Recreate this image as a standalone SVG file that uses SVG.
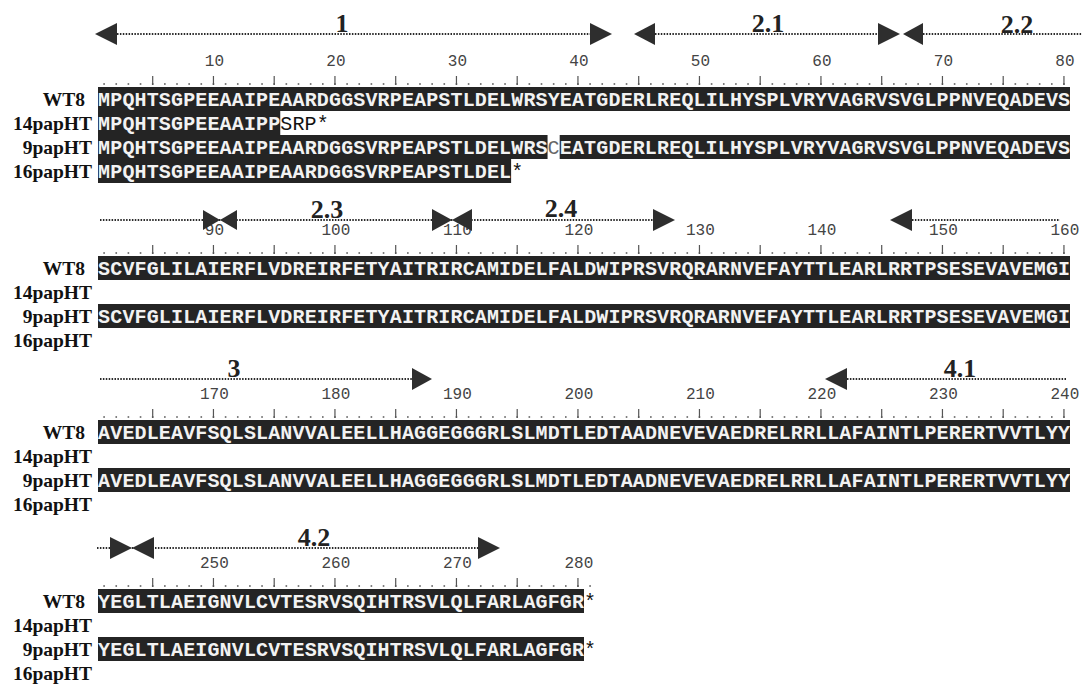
<svg xmlns="http://www.w3.org/2000/svg" width="1082" height="688" viewBox="0 0 1082 688">
<style>
.lbl{font-family:"Liberation Serif","Times New Roman",serif;font-weight:bold;font-size:19.5px;fill:#111;text-anchor:end}
.seq{font-family:"Liberation Mono","Courier New",monospace;font-weight:bold;font-size:20px;letter-spacing:0.15px;fill:#f2f2f2}
.seqb{font-family:"Liberation Mono","Courier New",monospace;font-size:20px;letter-spacing:0.15px;fill:#111}
.box{fill:#242424}
.num{font-family:"Liberation Mono","Courier New",monospace;font-size:16px;fill:#444;text-anchor:middle}
.dots{stroke:#555;stroke-width:1.6;stroke-dasharray:1.6 10.55;fill:none}
.ticks{stroke:#555;stroke-width:9;stroke-dasharray:1.2 59.55;fill:none}
.aline{stroke:#2a2a2a;stroke-width:2;stroke-dasharray:1.5 1.4;fill:none}
.head{fill:#2e2e2e}
.alab{font-family:"Liberation Serif","Times New Roman",serif;font-weight:bold;font-size:26px;fill:#222;text-anchor:middle}
</style>

<!-- Block 1 -->
<g id="block1">
  <g id="ruler1">
    <text class="num" y="66"><tspan x="214.4">10</tspan><tspan x="335.9">20</tspan><tspan x="457.4">30</tspan><tspan x="578.9">40</tspan><tspan x="700.4">50</tspan><tspan x="821.9">60</tspan><tspan x="943.4">70</tspan><tspan x="1064.9">80</tspan></text>
    <path class="dots" d="M103.3 84H1064.8"/>
    <path class="ticks" d="M152.1 80.5H1065"/>
  </g>
  <g id="b1-WT8">
    <text class="lbl" x="85" y="105.5">WT8</text>
    <rect class="box" x="98" y="87" width="972" height="24"/>
    <text class="seq" x="98.1" y="105.5">MPQHTSGPEEAAIPEAARDGGSVRPEAPSTLDELWRSYEATGDERLREQLILHYSPLVRYVAGRVSVGLPPNVEQADEVS</text>
  </g>
  <g id="b1-14papHT">
    <text class="lbl" x="92" y="129.5">14papHT</text>
    <rect class="box" x="98" y="111" width="182.25" height="24"/>
    <text class="seq" x="98.1" y="129.5">MPQHTSGPEEAAIPP</text>
    <text class="seqb" x="280.3" y="129.5">SRP*</text>
  </g>
  <g id="b1-9papHT">
    <text class="lbl" x="92" y="153.5">9papHT</text>
    <rect class="box" x="98" y="135" width="449.55" height="24"/>
    <text class="seq" x="98.1" y="153.5">MPQHTSGPEEAAIPEAARDGGSVRPEAPSTLDELWRS</text>
    <text class="seqb" x="547.6" y="153.5" style="fill:#666">C</text>
    <rect class="box" x="559.7" y="135" width="510.3" height="24"/>
    <text class="seq" x="559.8" y="153.5">EATGDERLREQLILHYSPLVRYVAGRVSVGLPPNVEQADEVS</text>
  </g>
  <g id="b1-16papHT">
    <text class="lbl" x="92" y="177.5">16papHT</text>
    <rect class="box" x="98" y="159" width="413.1" height="24"/>
    <text class="seq" x="98.1" y="177.5">MPQHTSGPEEAAIPEAARDGGSVRPEAPSTLDEL</text>
    <text class="seqb" x="511.2" y="177.5">*</text>
  </g>
</g>

<!-- Block 2 -->
<g id="block2">
  <g id="ruler2">
    <text class="num" y="235"><tspan x="214.4">90</tspan><tspan x="335.9">100</tspan><tspan x="457.4">110</tspan><tspan x="578.9">120</tspan><tspan x="700.4">130</tspan><tspan x="821.9">140</tspan><tspan x="943.4">150</tspan><tspan x="1064.9">160</tspan></text>
    <path class="dots" d="M103.3 253H1064.8"/>
    <path class="ticks" d="M152.1 249.5H1065"/>
  </g>
  <g id="b2-WT8">
    <text class="lbl" x="85" y="274.5">WT8</text>
    <rect class="box" x="98" y="256" width="972" height="24"/>
    <text class="seq" x="98.1" y="274.5">SCVFGLILAIERFLVDREIRFETYAITRIRCAMIDELFALDWIPRSVRQRARNVEFAYTTLEARLRRTPSESEVAVEMGI</text>
  </g>
  <g id="b2-14papHT">
    <text class="lbl" x="92" y="298.5">14papHT</text>
  </g>
  <g id="b2-9papHT">
    <text class="lbl" x="92" y="322.5">9papHT</text>
    <rect class="box" x="98" y="304" width="972" height="24"/>
    <text class="seq" x="98.1" y="322.5">SCVFGLILAIERFLVDREIRFETYAITRIRCAMIDELFALDWIPRSVRQRARNVEFAYTTLEARLRRTPSESEVAVEMGI</text>
  </g>
  <g id="b2-16papHT">
    <text class="lbl" x="92" y="346.5">16papHT</text>
  </g>
</g>

<!-- Block 3 -->
<g id="block3">
  <g id="ruler3">
    <text class="num" y="399"><tspan x="214.4">170</tspan><tspan x="335.9">180</tspan><tspan x="457.4">190</tspan><tspan x="578.9">200</tspan><tspan x="700.4">210</tspan><tspan x="821.9">220</tspan><tspan x="943.4">230</tspan><tspan x="1064.9">240</tspan></text>
    <path class="dots" d="M103.3 417H1064.8"/>
    <path class="ticks" d="M152.1 413.5H1065"/>
  </g>
  <g id="b3-WT8">
    <text class="lbl" x="85" y="438.5">WT8</text>
    <rect class="box" x="98" y="420" width="972" height="24"/>
    <text class="seq" x="98.1" y="438.5">AVEDLEAVFSQLSLANVVALEELLHAGGEGGGRLSLMDTLEDTAADNEVEVAEDRELRRLLAFAINTLPERERTVVTLYY</text>
  </g>
  <g id="b3-14papHT">
    <text class="lbl" x="92" y="462.5">14papHT</text>
  </g>
  <g id="b3-9papHT">
    <text class="lbl" x="92" y="486.5">9papHT</text>
    <rect class="box" x="98" y="468" width="972" height="24"/>
    <text class="seq" x="98.1" y="486.5">AVEDLEAVFSQLSLANVVALEELLHAGGEGGGRLSLMDTLEDTAADNEVEVAEDRELRRLLAFAINTLPERERTVVTLYY</text>
  </g>
  <g id="b3-16papHT">
    <text class="lbl" x="92" y="510.5">16papHT</text>
  </g>
</g>

<!-- Block 4 -->
<g id="block4">
  <g id="ruler4">
    <text class="num" y="568"><tspan x="214.4">250</tspan><tspan x="335.9">260</tspan><tspan x="457.4">270</tspan><tspan x="578.9">280</tspan></text>
    <path class="dots" d="M103.3 586H591"/>
    <path class="ticks" d="M152.1 582.5H579"/>
  </g>
  <g id="b4-WT8">
    <text class="lbl" x="85" y="607.5">WT8</text>
    <rect class="box" x="98" y="589" width="486" height="24"/>
    <text class="seq" x="98.1" y="607.5">YEGLTLAEIGNVLCVTESRVSQIHTRSVLQLFARLAGFGR</text>
    <text class="seqb" x="584.1" y="607.5">*</text>
  </g>
  <g id="b4-14papHT">
    <text class="lbl" x="92" y="631.5">14papHT</text>
  </g>
  <g id="b4-9papHT">
    <text class="lbl" x="92" y="655.5">9papHT</text>
    <rect class="box" x="98" y="637" width="486" height="24"/>
    <text class="seq" x="98.1" y="655.5">YEGLTLAEIGNVLCVTESRVSQIHTRSVLQLFARLAGFGR</text>
    <text class="seqb" x="584.1" y="655.5">*</text>
  </g>
  <g id="b4-16papHT">
    <text class="lbl" x="92" y="679.5">16papHT</text>
  </g>
</g>

<!-- Domain arrows (connectors) -->
<g id="connectors">
  <!-- block 1, y=34 -->
  <path class="aline" d="M117 34H590"/>
  <polygon class="head" points="117,23 95,34 117,45"/>
  <polygon class="head" points="590,23 612,34 590,45"/>
  <path class="aline" d="M655 34H878"/>
  <polygon class="head" points="655,23 634,34 655,45"/>
  <polygon class="head" points="878,23 900,34 878,45"/>
  <path class="aline" d="M923 34H1082"/>
  <polygon class="head" points="923,23 903,34 923,45"/>
  <!-- block 2, y=220 -->
  <path class="aline" d="M100 220H653"/>
  <polygon class="head" points="203,210 220,220 203,230"/>
  <polygon class="head" points="237,210 220,220 237,230"/>
  <polygon class="head" points="432,209 452,220 432,231"/>
  <polygon class="head" points="472,209 452,220 472,231"/>
  <polygon class="head" points="653,209 675,220 653,231"/>
  <path class="aline" d="M912 220H1060"/>
  <polygon class="head" points="912,209 890,220 912,231"/>
  <!-- block 3, y=379 -->
  <path class="aline" d="M100 379H412"/>
  <polygon class="head" points="412,368 432,379 412,390"/>
  <path class="aline" d="M847 379H1066"/>
  <polygon class="head" points="847,368 825,379 847,390"/>
  <!-- block 4, y=548 -->
  <path class="aline" d="M97 548H478"/>
  <polygon class="head" points="110,537 132,548 110,559"/>
  <polygon class="head" points="154,537 132,548 154,559"/>
  <polygon class="head" points="478,537 500,548 478,559"/>
</g>

<g id="domain-labels">
  <text class="alab" x="342" y="32">1</text>
  <text class="alab" x="768" y="32">2.1</text>
  <text class="alab" x="1017" y="33">2.2</text>
  <text class="alab" x="327" y="218">2.3</text>
  <text class="alab" x="561" y="217">2.4</text>
  <text class="alab" x="234" y="377">3</text>
  <text class="alab" x="960" y="377">4.1</text>
  <text class="alab" x="314" y="546">4.2</text>
</g>
</svg>
